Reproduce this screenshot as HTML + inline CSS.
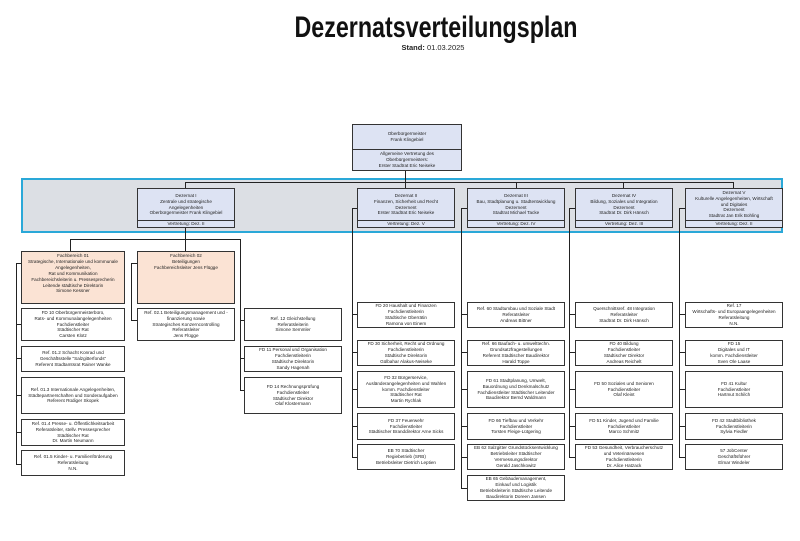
<!DOCTYPE html>
<html><head><meta charset="utf-8"><style>
body{margin:0;width:800px;height:541px;background:#fff;position:relative;overflow:hidden;font-family:"Liberation Sans",sans-serif}
.b{position:absolute;border:1px solid #333;box-sizing:border-box;background:#fff;display:flex;flex-direction:column;justify-content:center;align-items:center;text-align:center;font-size:4.6px;line-height:5.9px;color:#222;overflow:hidden}
.p{background:#fbe3d4;justify-content:flex-start;padding-top:1px}
.d{background:#dde3f3;justify-content:flex-start}
.d .m{flex:1;display:flex;flex-direction:column;justify-content:center}
.d .v{width:100%;border-top:1px solid #333;height:6px;line-height:6px}
.l{position:absolute;background:#222}
</style></head><body>
<svg style="position:absolute;left:0;top:0" width="800" height="60"><text x="436" y="37" text-anchor="middle" font-family="Liberation Sans" font-weight="bold" font-size="30" textLength="283" lengthAdjust="spacingAndGlyphs" fill="#111">Dezernatsverteilungsplan</text><text x="433" y="50" text-anchor="middle" font-family="Liberation Sans" font-size="7.5" fill="#222"><tspan font-weight="bold">Stand:</tspan> 01.03.2025</text></svg>

<div style="position:absolute;left:21px;top:178px;width:762px;height:55px;box-sizing:border-box;border:2.5px solid #2aa8d8;background:#dcdfe4"></div>

<div class="b d" style="left:352px;top:124px;width:110px;height:47px"><div class="m" style="height:24px;flex:none">Oberbürgermeister<br>Frank Klingebiel</div><div style="border-top:1px solid #333;width:100%;flex:1;display:flex;flex-direction:column;justify-content:center">Allgemeine Vertretung des<br>Oberbürgermeisters:<br>Erster Stadtrat Eric Neiseke</div></div>

<div class="l" style="left:405px;top:171px;width:1px;height:12px"></div>
<div class="l" style="left:185px;top:182px;width:549px;height:1px"></div>
<div class="l" style="left:185px;top:182px;width:1px;height:7px"></div>
<div class="l" style="left:405px;top:182px;width:1px;height:7px"></div>
<div class="l" style="left:516px;top:182px;width:1px;height:7px"></div>
<div class="l" style="left:623px;top:182px;width:1px;height:7px"></div>
<div class="l" style="left:733px;top:182px;width:1px;height:7px"></div>

<div class="b d" style="left:137px;top:188px;width:98px;height:40px"><div class="m">Dezernat I<br>Zentrale und strategische<br>Angelegenheiten<br>Oberbürgermeister Frank Klingebiel</div><div class="v">Vertretung: Dez. II</div></div>
<div class="b d" style="left:357px;top:188px;width:98px;height:40px"><div class="m">Dezernat II<br>Finanzen, Sicherheit und Recht<br>Dezernent<br>Erster Stadtrat Eric Neiseke</div><div class="v">Vertretung: Dez. V</div></div>
<div class="b d" style="left:467px;top:188px;width:98px;height:40px"><div class="m">Dezernat III<br>Bau, Stadtplanung u. Stadtentwicklung<br>Dezernent<br>Stadtrat Michael Tacke</div><div class="v">Vertretung: Dez. IV</div></div>
<div class="b d" style="left:575px;top:188px;width:98px;height:40px"><div class="m">Dezernat IV<br>Bildung, Soziales und Integration<br>Dezernent<br>Stadtrat Dr. Dirk Hänsch</div><div class="v">Vertretung: Dez. III</div></div>
<div class="b d" style="left:685px;top:188px;width:98px;height:40px"><div class="m">Dezernat V<br>Kulturelle Angelegenheiten, Wirtschaft<br>und Digitales<br>Dezernent<br>Stadtrat Jan Erik Bohling</div><div class="v">Vertretung: Dez. II</div></div>

<!-- Dez I connectors -->
<div class="l" style="left:185px;top:228px;width:1px;height:24px"></div>
<div class="l" style="left:70px;top:239px;width:170px;height:1px"></div>
<div class="l" style="left:70px;top:239px;width:1px;height:13px"></div>
<div class="l" style="left:240px;top:239px;width:1px;height:152px"></div>
<div class="l" style="left:16px;top:263px;width:1px;height:202px"></div>
<div class="l" style="left:131px;top:263px;width:1px;height:58px"></div>
<div class="l" style="left:352px;top:208px;width:1px;height:250px"></div>
<div class="l" style="left:352px;top:208px;width:5px;height:1px"></div>
<div class="l" style="left:461px;top:208px;width:1px;height:281px"></div>
<div class="l" style="left:461px;top:208px;width:6px;height:1px"></div>
<div class="l" style="left:569px;top:208px;width:1px;height:250px"></div>
<div class="l" style="left:569px;top:208px;width:6px;height:1px"></div>
<div class="l" style="left:679px;top:208px;width:1px;height:250px"></div>
<div class="l" style="left:679px;top:208px;width:6px;height:1px"></div>

<!-- ticks -->
<div class="l" style="left:16px;top:263px;width:5px;height:1px"></div>
<div class="l" style="left:16px;top:324px;width:5px;height:1px"></div>
<div class="l" style="left:16px;top:358px;width:5px;height:1px"></div>
<div class="l" style="left:16px;top:395px;width:5px;height:1px"></div>
<div class="l" style="left:16px;top:432px;width:5px;height:1px"></div>
<div class="l" style="left:16px;top:464px;width:5px;height:1px"></div>
<div class="l" style="left:131px;top:263px;width:6px;height:1px"></div>
<div class="l" style="left:131px;top:320px;width:6px;height:1px"></div>
<div class="l" style="left:240px;top:320px;width:4px;height:1px"></div>
<div class="l" style="left:240px;top:358px;width:4px;height:1px"></div>
<div class="l" style="left:240px;top:390px;width:4px;height:1px"></div>
<div class="l" style="left:352px;top:314px;width:5px;height:1px"></div>
<div class="l" style="left:352px;top:352px;width:5px;height:1px"></div>
<div class="l" style="left:352px;top:389px;width:5px;height:1px"></div>
<div class="l" style="left:352px;top:426px;width:5px;height:1px"></div>
<div class="l" style="left:352px;top:457px;width:5px;height:1px"></div>
<div class="l" style="left:461px;top:314px;width:6px;height:1px"></div>
<div class="l" style="left:461px;top:352px;width:6px;height:1px"></div>
<div class="l" style="left:461px;top:389px;width:6px;height:1px"></div>
<div class="l" style="left:461px;top:426px;width:6px;height:1px"></div>
<div class="l" style="left:461px;top:457px;width:6px;height:1px"></div>
<div class="l" style="left:461px;top:488px;width:6px;height:1px"></div>
<div class="l" style="left:569px;top:314px;width:6px;height:1px"></div>
<div class="l" style="left:569px;top:352px;width:6px;height:1px"></div>
<div class="l" style="left:569px;top:389px;width:6px;height:1px"></div>
<div class="l" style="left:569px;top:426px;width:6px;height:1px"></div>
<div class="l" style="left:569px;top:457px;width:6px;height:1px"></div>
<div class="l" style="left:679px;top:314px;width:6px;height:1px"></div>
<div class="l" style="left:679px;top:352px;width:6px;height:1px"></div>
<div class="l" style="left:679px;top:389px;width:6px;height:1px"></div>
<div class="l" style="left:679px;top:426px;width:6px;height:1px"></div>
<div class="l" style="left:679px;top:457px;width:6px;height:1px"></div>

<!-- column 1 -->
<div class="b p" style="left:21px;top:251px;width:104px;height:53px">Fachbereich 01<br>Strategische, Internationale und kommunale<br>Angelegenheiten,<br>Rat und Kommunikation<br>Fachbereichsleiterin u. Pressesprecherin<br>Leitende städtische Direktorin<br>Simone Kessner</div>
<div class="b" style="left:21px;top:308px;width:104px;height:33px">FD 10 Oberbürgermeisterbüro,<br>Rats- und Kommunalangelegenheiten<br>Fachdienstleiter<br>Städtischer Rat<br>Carsten Klotz</div>
<div class="b" style="left:21px;top:346px;width:104px;height:26px">Ref. 01.2 Schacht Konrad und<br>Geschäftsstelle "Salzgitterfonds"<br>Referent Stadtamtsrat Rainer Wanke</div>
<div class="b" style="left:21px;top:377px;width:104px;height:37px">Ref. 01.3 Internationale Angelegenheiten,<br>Städtepartnerschaften und Sonderaufgaben<br>Referent Rüdiger Skopek</div>
<div class="b" style="left:21px;top:419px;width:104px;height:27px">Ref. 01.4 Presse- u. Öffentlichkeitsarbeit<br>Referatsleiter, stellv. Pressesprecher<br>Städtischer Rat<br>Dr. Martin Neumann</div>
<div class="b" style="left:21px;top:450px;width:104px;height:26px">Ref. 01.5 Kinder- u. Familienförderung<br>Referatsleitung<br>N.N.</div>

<div class="b p" style="left:137px;top:251px;width:98px;height:53px">Fachbereich 02<br>Beteiligungen<br>Fachbereichsleiter Jens Flügge</div>
<div class="b" style="left:137px;top:308px;width:98px;height:33px">Ref. 02.1 Beteiligungsmanagement und -<br>finanzierung sowie<br>Strategisches Konzerncontrolling<br>Referatsleiter<br>Jens Flügge</div>

<div class="b" style="left:244px;top:308px;width:98px;height:33px">Ref. 12 Gleichstellung<br>Referatsleiterin<br>Simone Semmler</div>
<div class="b" style="left:244px;top:346px;width:98px;height:26px">FD 11 Personal und Organisation<br>Fachdienstleiterin<br>Städtische Direktorin<br>Sandy Hagenah</div>
<div class="b" style="left:244px;top:377px;width:98px;height:37px">FD 14 Rechnungsprüfung<br>Fachdienstleiter<br>Städtischer Direktor<br>Olaf Klostermann</div>

<!-- col II -->
<div class="b" style="left:357px;top:302px;width:98px;height:26px">FD 20 Haushalt und Finanzen<br>Fachdienstleiterin<br>Städtische Oberrätin<br>Ramona von Einem</div>
<div class="b" style="left:357px;top:340px;width:98px;height:26px">FD 30 Sicherheit, Recht und Ordnung<br>Fachdienstleiterin<br>Städtische Direktorin<br>Gülbahar Alakus-Neiseke</div>
<div class="b" style="left:357px;top:371px;width:98px;height:37px">FD 32 Bürgerservice,<br>Ausländerangelegenheiten und Wahlen<br>komm. Fachdienstleiter<br>Städtischer Rat<br>Martin Rychlak</div>
<div class="b" style="left:357px;top:413px;width:98px;height:27px">FD 37 Feuerwehr<br>Fachdienstleiter<br>Städtischer Branddirektor Arne Sicks</div>
<div class="b" style="left:357px;top:444px;width:98px;height:26px">EB 70 Städtischer<br>Regiebetrieb (SRB)<br>Betriebsleiter Dietrich Leptien</div>

<!-- col III -->
<div class="b" style="left:467px;top:302px;width:98px;height:26px">Ref. 60 Stadtumbau und Soziale Stadt<br>Referatsleiter<br>Andreas Bittner</div>
<div class="b" style="left:467px;top:340px;width:98px;height:26px">Ref. 66 Baufach- u. umwelttechn.<br>Grundsatzfragestellungen<br>Referent Städtischer Baudirektor<br>Harald Toppe</div>
<div class="b" style="left:467px;top:371px;width:98px;height:37px">FD 61 Stadtplanung, Umwelt,<br>Bauordnung und Denkmalschutz<br>Fachdienstleiter Städtischer Leitender<br>Baudirektor Bernd Waldmann</div>
<div class="b" style="left:467px;top:413px;width:98px;height:27px">FD 66 Tiefbau und Verkehr<br>Fachdienstleiter<br>Torsten Fleige-Lütgering</div>
<div class="b" style="left:467px;top:444px;width:98px;height:26px">EB 62 Salzgitter Grundstücksentwicklung<br>Betriebsleiter Städtischer<br>Vermessungsdirektor<br>Gerald Jaschkowitz</div>
<div class="b" style="left:467px;top:475px;width:98px;height:26px">EB 65 Gebäudemanagement,<br>Einkauf und Logistik<br>Betriebsleiterin Städtische Leitende<br>Baudirektorin Doreen Jansen</div>

<!-- col IV -->
<div class="b" style="left:575px;top:302px;width:98px;height:26px">Querschnittsref. 48 Integration<br>Referatsleiter<br>Stadtrat Dr. Dirk Hänsch</div>
<div class="b" style="left:575px;top:340px;width:98px;height:26px">FD 40 Bildung<br>Fachdienstleiter<br>Städtischer Direktor<br>Andreas Reichelt</div>
<div class="b" style="left:575px;top:371px;width:98px;height:37px">FD 50 Soziales und Senioren<br>Fachdienstleiter<br>Olaf Kleint</div>
<div class="b" style="left:575px;top:413px;width:98px;height:27px">FD 51 Kinder, Jugend und Familie<br>Fachdienstleiter<br>Marco Schmitz</div>
<div class="b" style="left:575px;top:444px;width:98px;height:26px">FD 53 Gesundheit, Verbraucherschutz<br>und Veterinärwesen<br>Fachdienstleiterin<br>Dr. Alice Hatzack</div>

<!-- col V -->
<div class="b" style="left:685px;top:302px;width:98px;height:26px">Ref. 17<br>Wirtschafts- und Europaangelegenheiten<br>Referatsleitung<br>N.N.</div>
<div class="b" style="left:685px;top:340px;width:98px;height:26px">FD 15<br>Digitales und IT<br>komm. Fachdienstleiter<br>Sven Ole Laase</div>
<div class="b" style="left:685px;top:371px;width:98px;height:37px">FD 41 Kultur<br>Fachdienstleiter<br>Hartmut Schilch</div>
<div class="b" style="left:685px;top:413px;width:98px;height:27px">FD 42 Stadtbibliothek<br>Fachdienstleiterin<br>Sylvia Fiedler</div>
<div class="b" style="left:685px;top:444px;width:98px;height:26px">57 JobCenter<br>Geschäftsführer<br>Elmar Windeler</div>
</body></html>
